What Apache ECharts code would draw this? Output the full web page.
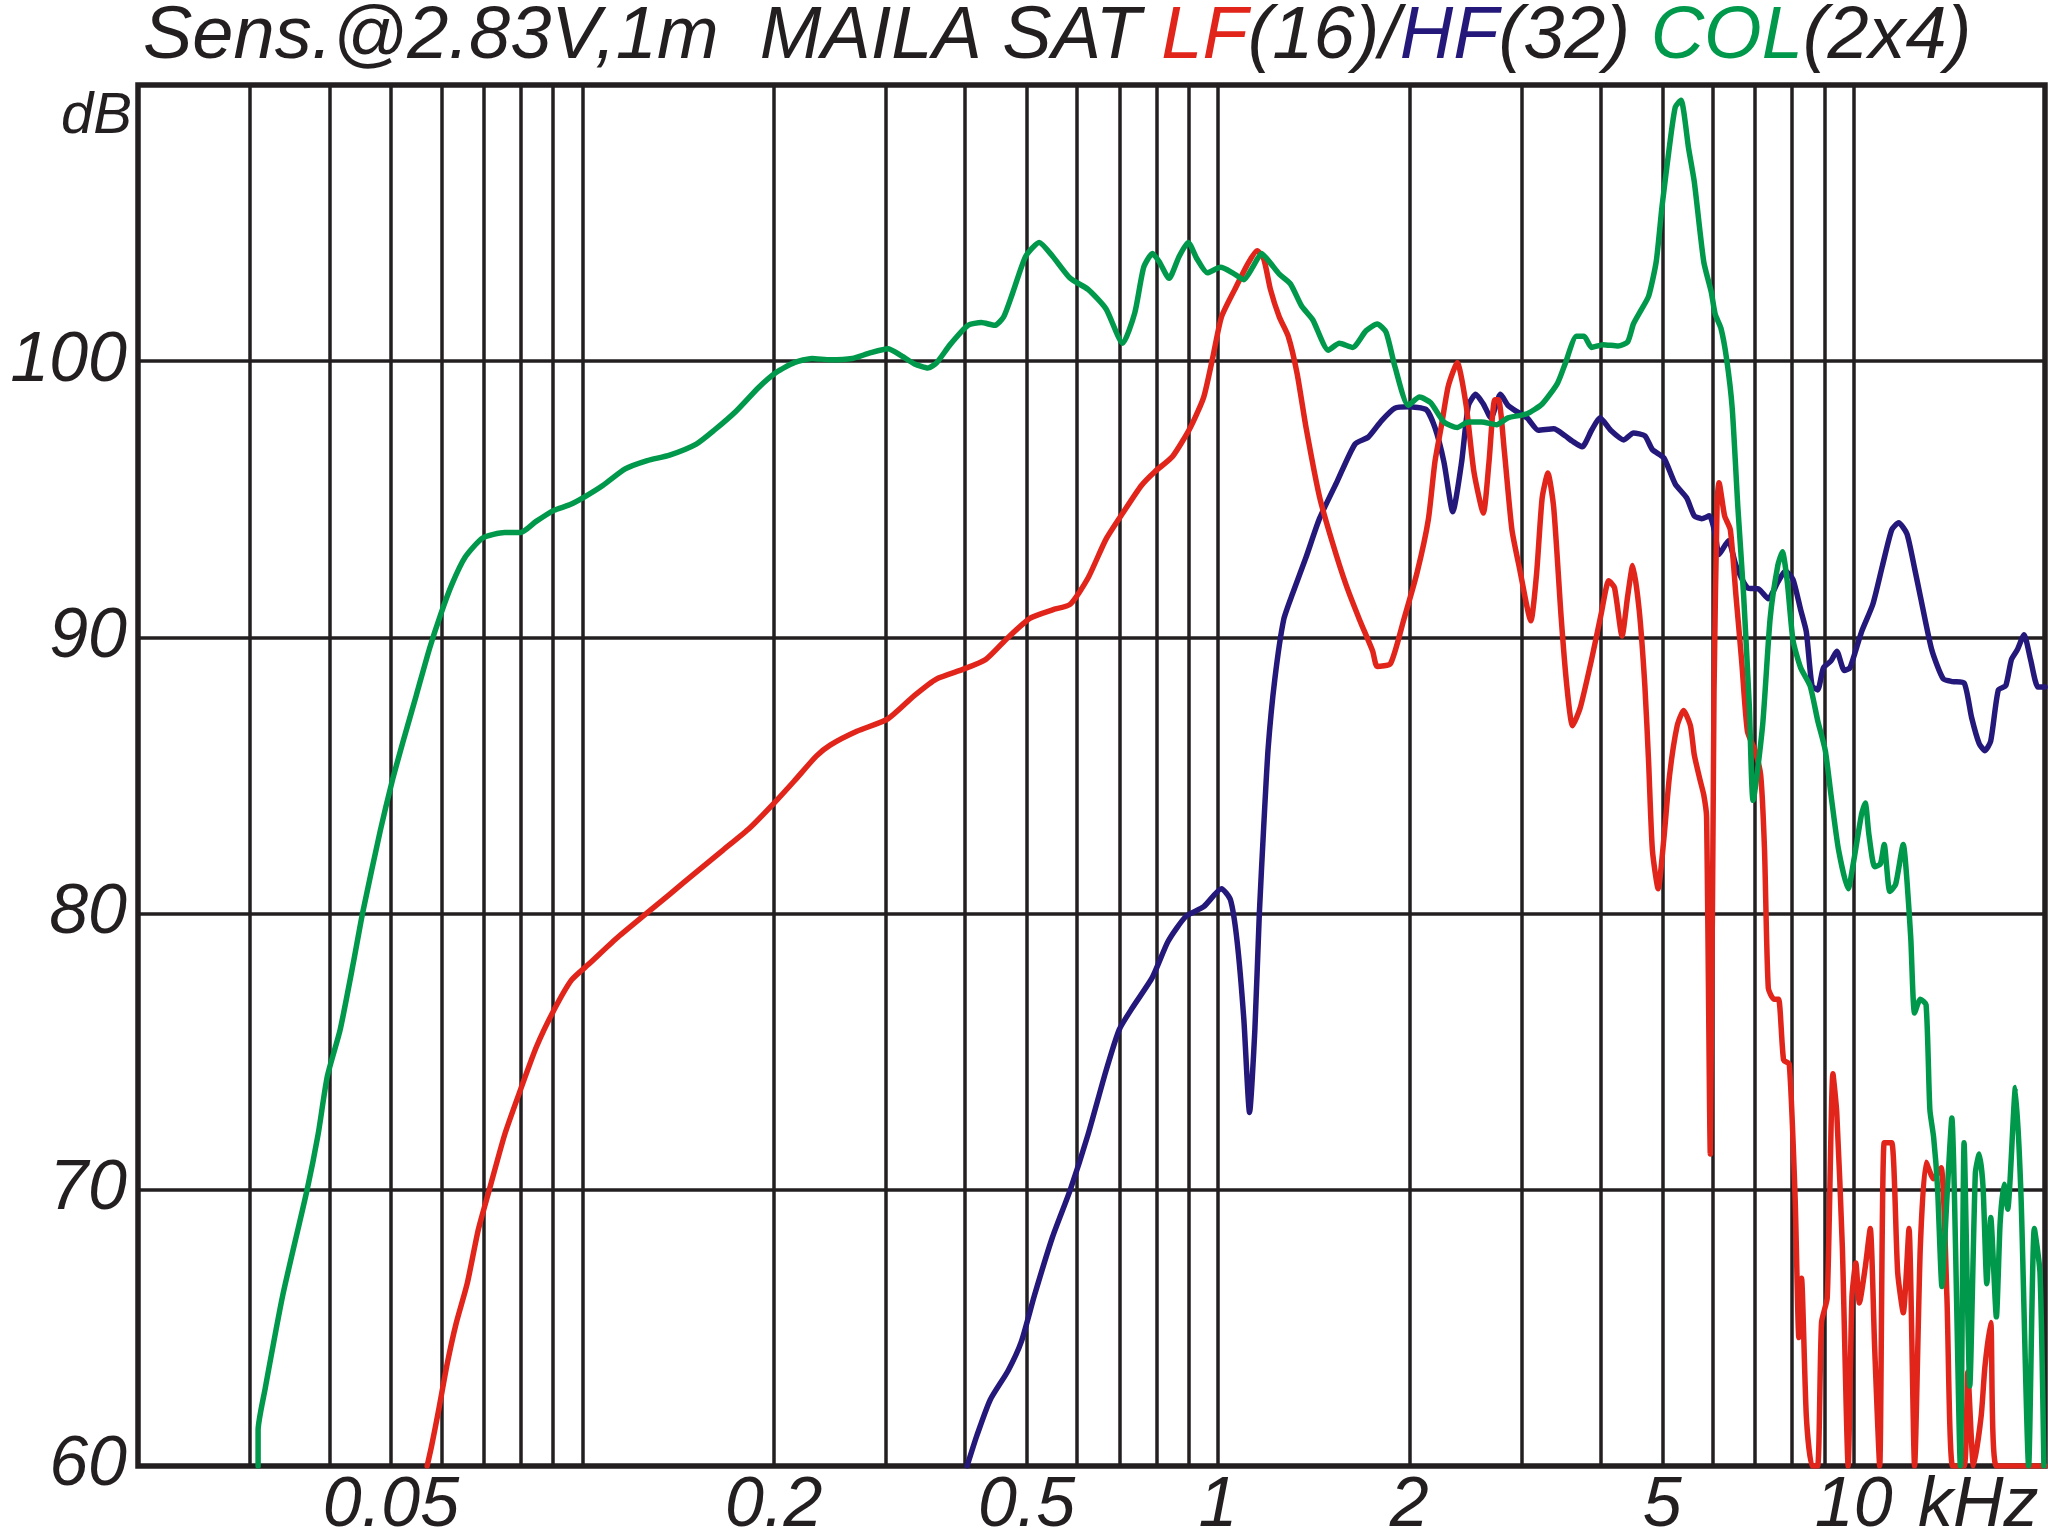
<!DOCTYPE html>
<html><head><meta charset="utf-8">
<script src="https://cdn.jsdelivr.net/npm/echarts/dist/echarts.min.js"></script>
<style>html,body{margin:0;padding:0;background:#fff}#c{width:2048px;height:1535px}</style>
</head><body><div id="c"></div>
<script>
// ---- data: [frequency kHz, SPL dB] ----
const colPoints = [
[0.0309,60],[0.0309,61.3],[0.0317,62.8],[0.0338,66.2],[0.0369,70.0],[0.0384,72.0],[0.0397,74.1],[0.0416,75.8],
[0.0437,78.3],[0.0451,80.0],[0.0481,83.0],[0.0501,84.7],[0.0522,86.2],[0.0548,87.9],[0.0575,89.6],[0.0598,90.8],
[0.0623,91.9],[0.0654,92.9],[0.0697,93.6],[0.0755,93.8],[0.0800,93.8],[0.0846,94.2],[0.0902,94.6],[0.0955,94.8],
[0.1010,95.1],[0.1077,95.5],[0.1168,96.1],[0.1265,96.4],[0.1372,96.6],[0.1511,97.0],[0.1612,97.5],[0.1747,98.2],
[0.1894,99.05],[0.2020,99.6],[0.2155,99.95],[0.2298,100.1],[0.2454,100.05],[0.2659,100.1],[0.2836,100.3],[0.3025,100.45],
[0.3174,100.2],[0.3332,99.9],[0.3498,99.75],[0.3611,99.95],[0.3790,100.6],[0.4044,101.3],[0.4243,101.4],[0.4454,101.3],
[0.4600,101.6],[0.4750,102.45],[0.4984,103.8],[0.5233,104.3],[0.5493,103.8],[0.5856,103.0],[0.6246,102.6],[0.6664,101.9],
[0.7081,100.65],[0.7398,101.75],[0.7641,103.4],[0.7888,103.9],[0.8083,103.6],[0.8375,103.0],[0.8690,103.8],[0.8977,104.3],
[0.9270,103.7],[0.9621,103.2],[1.0096,103.4],[1.0544,103.2],[1.0980,102.95],[1.1337,103.4],[1.1708,103.9],[1.2092,103.55],
[1.2488,103.15],[1.3001,102.8],[1.3537,102.0],[1.4094,101.5],[1.4915,100.4],[1.5521,100.65],[1.6291,100.5],[1.7097,101.1],
[1.7803,101.35],[1.8384,101.05],[1.8986,99.8],[1.9922,98.4],[2.075,98.7],[2.160,98.5],[2.267,97.8],[2.379,97.6],
[2.477,97.8],[2.597,97.8],[2.744,97.7],[2.859,97.95],[3.064,98.1],[3.236,98.45],[3.420,99.2],[3.516,99.9],
[3.664,100.9],[3.766,100.9],[3.870,100.5],[4.035,100.6],[4.262,100.55],[4.411,100.7],[4.504,101.35],[4.630,101.85],
[4.758,102.35],[4.891,103.6],[4.995,105.6],[5.133,107.8],[5.241,109.2],[5.350,109.45],[5.500,107.7],[5.614,106.5],
[5.810,103.6],[5.971,102.5],[6.056,101.7],[6.182,101.2],[6.310,100.1],[6.441,98.3],[6.575,94.7],[6.714,91.5],
[6.853,87.5],[6.947,84.1],[7.190,86.8],[7.391,90.7],[7.598,92.6],[7.726,93.1],[7.864,92.0],[8.027,89.9],
[8.253,88.9],[8.540,88.25],[8.777,87.0],[9.025,85.9],[9.212,84.3],[9.469,82.3],[9.804,80.9],[10.01,81.95],
[10.29,83.6],[10.43,84.0],[10.57,82.85],[10.79,81.7],[11.02,81.8],[11.17,82.5],[11.40,80.8],[11.64,81.05],
[11.97,82.5],[12.13,81.2],[12.30,79.1],[12.47,76.4],[12.73,76.9],[13.00,76.7],[13.18,72.9],[13.36,71.9],
[13.55,70.1],[13.77,66.5],[14.02,69.7],[14.27,72.6],[14.72,60],[14.92,71.7],[15.23,62.9],[15.54,70.6],
[15.76,71.3],[15.98,70.1],[16.20,66.6],[16.43,69.0],[16.77,65.4],[17.00,68.8],[17.24,70.2],[17.47,69.3],
[17.97,73.7],[18.34,69.7],[18.85,60],[19.24,68.6],[19.64,67.0],[19.92,60]
];
const lfPoints = [
[0.0570,60],[0.0579,60.7],[0.0594,62.0],[0.0613,63.7],[0.0633,65.15],[0.0659,66.6],[0.0686,68.55],[0.0714,70.0],
[0.0755,72.0],[0.0793,73.4],[0.0846,75.15],[0.0902,76.5],[0.0962,77.6],[0.1027,78.2],[0.1131,79.1],[0.1245,79.9],
[0.1372,80.7],[0.1511,81.5],[0.1665,82.3],[0.1834,83.1],[0.2003,84.0],[0.2155,84.8],[0.2334,85.7],[0.2454,86.1],
[0.2703,86.6],[0.3025,87.05],[0.3332,87.9],[0.3611,88.5],[0.3978,88.85],[0.4311,89.2],[0.4675,90.0],[0.5066,90.7],
[0.5493,91.0],[0.5856,91.2],[0.6246,92.15],[0.6664,93.55],[0.7106,94.55],[0.7578,95.5],[0.7955,96.0],[0.8482,96.55],
[0.9049,97.6],[0.9497,98.7],[0.9806,100.1],[1.0127,101.6],[1.0629,102.6],[1.1156,103.55],[1.1522,104.0],[1.1805,103.7],
[1.2092,102.6],[1.2488,101.6],[1.2899,100.9],[1.3320,99.55],[1.3757,97.6],[1.4443,95.1],[1.5154,93.4],[1.5905,91.9],
[1.6692,90.65],[1.7515,89.5],[1.7803,88.95],[1.8679,89.05],[1.9605,90.65],[2.057,92.35],[2.142,94.25],[2.194,96.35],
[2.248,97.7],[2.303,99.1],[2.379,99.95],[2.457,98.4],[2.527,96.0],[2.615,94.5],[2.669,96.35],[2.725,98.6],
[2.763,98.6],[2.820,96.8],[2.900,93.9],[2.981,92.5],[3.106,90.6],[3.171,92.3],[3.236,95.05],[3.304,95.95],
[3.374,94.7],[3.467,90.7],[3.538,88.25],[3.612,86.8],[3.714,87.45],[3.870,89.2],[4.007,90.85],[4.119,92.05],
[4.205,91.8],[4.322,90.05],[4.411,91.5],[4.492,92.6],[4.598,91.0],[4.694,88.25],[4.758,85.5],[4.824,82.3],
[4.926,80.9],[5.028,82.7],[5.133,85.0],[5.277,86.8],[5.401,87.35],[5.537,86.8],[5.614,85.75],[5.731,84.85],
[5.810,84.3],[5.87,83.5],[5.95,71.3],[6.03,88.0],[6.10,95.0],[6.14,95.6],[6.266,94.4],[6.397,93.9],
[6.530,91.5],[6.668,89.1],[6.806,86.6],[6.996,85.9],[7.142,85.0],[7.241,82.3],[7.341,77.3],[7.491,76.9],
[7.619,76.9],[7.759,74.7],[7.920,74.55],[8.090,69.7],[8.200,64.65],[8.280,66.8],[8.425,61.8],[8.600,60],
[8.777,60],[8.902,65.2],[9.088,66.1],[9.277,74.2],[9.406,72.8],[9.600,67.9],[9.804,60],[9.938,66.1],
[10.08,67.35],[10.21,65.9],[10.43,67.2],[10.62,68.6],[10.79,64.3],[10.99,60],[11.17,71.7],[11.48,71.7],
[11.73,67.0],[11.97,65.55],[12.22,68.6],[12.47,60],[12.73,67.9],[13.00,71.0],[13.36,70.4],[13.73,70.8],
[14.02,66.1],[14.31,60],[14.92,60],[15.12,63.4],[15.44,60],[15.87,61.8],[16.09,63.6],[16.43,65.2],
[16.77,60],[20,60]
];
const hfPoints = [
[0.4030,60],[0.4175,61.1],[0.4383,62.4],[0.4675,63.45],[0.4905,64.5],[0.5147,66.2],[0.5493,68.3],[0.5856,70.0],
[0.6246,72.0],[0.6664,74.3],[0.6993,75.8],[0.7339,76.6],[0.7888,77.7],[0.8348,79.0],[0.8903,79.9],[0.9497,80.25],
[1.0127,80.9],[1.0462,80.5],[1.0717,79.0],[1.0980,76.2],[1.1212,72.8],[1.1430,75.8],[1.1616,80.0],[1.1805,83.2],
[1.1994,86.0],[1.2288,88.5],[1.2689,90.65],[1.3109,91.6],[1.3757,92.9],[1.4443,94.3],[1.5400,95.65],[1.6428,97.0],
[1.7234,97.25],[1.8092,97.85],[1.8986,98.3],[1.9922,98.35],[2.125,98.25],[2.194,97.6],[2.267,96.35],[2.341,94.55],
[2.417,96.35],[2.477,98.4],[2.544,98.8],[2.615,98.45],[2.688,97.95],[2.782,98.8],[2.859,98.4],[2.939,98.2],
[3.064,97.95],[3.192,97.5],[3.374,97.55],[3.516,97.3],[3.612,97.1],[3.740,96.9],[3.870,97.5],[3.990,97.95],
[4.147,97.5],[4.350,97.15],[4.504,97.4],[4.694,97.3],[4.824,96.8],[5.028,96.5],[5.241,95.55],[5.462,95.05],
[5.614,94.4],[5.769,94.3],[5.929,94.4],[6.056,93.75],[6.140,93.0],[6.353,93.5],[6.530,92.6],[6.806,91.8],
[7.093,91.75],[7.342,91.4],[7.598,92.0],[7.808,92.4],[8.027,92.1],[8.253,91.0],[8.425,90.2],[8.600,88.25],
[8.777,88.1],[8.963,88.9],[9.212,89.15],[9.406,89.5],[9.668,88.8],[9.868,88.9],[10.29,90.2],[10.72,91.2],
[11.10,92.6],[11.48,93.9],[11.77,94.15],[12.13,93.75],[12.47,92.5],[12.73,91.5],[13.27,89.55],[13.83,88.5],
[14.31,88.4],[14.92,88.35],[15.33,87.1],[15.76,86.15],[16.09,85.9],[16.43,86.25],[16.89,88.1],[17.35,88.25],
[17.71,89.2],[18.09,89.55],[18.54,90.1],[18.98,89.2],[19.50,88.2],[20.0,88.2]
];
const gridFreqs = [0.03,0.04,0.05,0.06,0.07,0.08,0.09,0.1,0.2,0.3,0.4,0.5,0.6,0.7,0.8,0.9,
                   1,2,3,4,5,6,7,8,9,10];
const xTickValues = [0.05,0.2,0.5,1,2,5,10];
const xTickLabels = ['0.05','0.2','0.5','1','2','5','10'];
const xUnitLabel = 'kHz';
const yUnitLabel = 'dB';

const INK = '#231f20';
const FONT = "'Liberation Sans', Arial, sans-serif";
const RED = '#e1251b', BLUE = '#24197a', GREEN = '#00984a';

const chart = echarts.init(document.getElementById('c'), null, {renderer: 'canvas'});

const gridMarks = gridFreqs.map(f => {
  const i = xTickValues.indexOf(f);
  return {
    xAxis: f,
    label: i >= 0 ? {show: true, formatter: xTickLabels[i]} : {show: false}
  };
});

const lineSeries = (name, data, color) => ({
  name, type: 'line', data, showSymbol: false, symbol: 'none', smooth: 0.2,
  clip: true, z: 5, silent: true,
  lineStyle: {color, width: 5.5, join: 'round', cap: 'round'}
});

const tStyle = (color) => ({color, fontSize: 74, fontStyle: 'italic', fontWeight: 'normal', fontFamily: FONT});

chart.setOption({
  animation: false,
  backgroundColor: '#fff',
  title: {
    left: 138, top: -5,
    text: '{k|Sens.@2.83V,1m  MAILA SAT }{r|LF}{k|(16)/}{b|HF}{k|(32) }{g|COL}{k|(2x4)}',
    textStyle: {fontWeight: 'normal', fontStyle: 'italic', fontSize: 74, fontFamily: FONT,
                rich: {k: tStyle(INK), r: tStyle(RED), b: tStyle(BLUE), g: tStyle(GREEN)}}
  },
  grid: {left: 138, right: 3, top: 85, bottom: 69, show: true,
         borderColor: INK, borderWidth: 5.5, backgroundColor: 'transparent'},
  xAxis: {
    type: 'log', logBase: 10, min: 0.02, max: 20,
    axisLine: {show: false}, axisTick: {show: false}, axisLabel: {show: false},
    splitLine: {show: false}, minorSplitLine: {show: false}
  },
  yAxis: {
    type: 'value', min: 60, max: 110, interval: 10,
    axisLine: {show: false}, axisTick: {show: false},
    splitLine: {show: true, lineStyle: {color: INK, width: 3.5}},
    axisLabel: {
      margin: 11, color: INK, fontSize: 70, fontStyle: 'italic', fontFamily: FONT,
      formatter: v => (v === 110 ? '' : String(v))
    }
  },
  graphic: [
    {type: 'text', right: 2048 - 132, top: 88, silent: true,
     style: {text: yUnitLabel, fill: INK, font: "italic 58px 'Liberation Sans', Arial, sans-serif"}},
    {type: 'text', left: 1918, top: 1472, silent: true,
     style: {text: xUnitLabel, fill: INK, font: "italic 70px 'Liberation Sans', Arial, sans-serif"}}
  ],
  series: [
    {
      name: 'grid', type: 'line', data: [], z: 1, silent: true,
      markLine: {
        silent: true, symbol: ['none', 'none'], animation: false,
        lineStyle: {color: INK, width: 3.5, type: 'solid'},
        label: {position: 'start', distance: 6, verticalAlign: 'top', align: 'center',
                color: INK, fontSize: 70, fontStyle: 'italic', fontFamily: FONT},
        emphasis: {disabled: true},
        data: gridMarks
      }
    },
    lineSeries('HF', hfPoints, BLUE),
    lineSeries('LF', lfPoints, RED),
    lineSeries('COL', colPoints, GREEN)
  ]
});
</script></body></html>
